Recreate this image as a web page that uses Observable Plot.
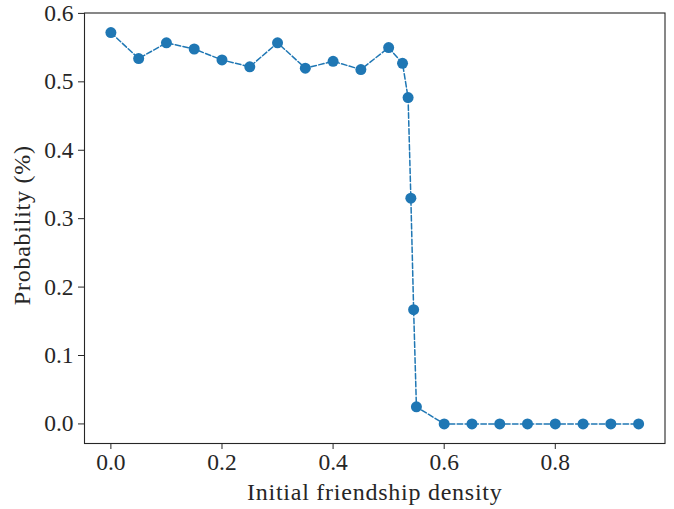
<!DOCTYPE html>
<html>
<head>
<meta charset="utf-8">
<script src="https://cdn.jsdelivr.net/npm/d3@7"></script>
<script src="https://cdn.jsdelivr.net/npm/@observablehq/plot@0.6"></script>
<style>
  html, body { margin: 0; padding: 0; background: #fff; }
  #chart svg { display: block; }
  #chart .axis-title text { letter-spacing: 0.75px; }
</style>
</head>
<body>
<div id="chart"></div>
<script>
const density = [0.00, 0.05, 0.10, 0.15, 0.20, 0.25, 0.30, 0.35, 0.40, 0.45, 0.50,
                 0.525, 0.535, 0.54, 0.545, 0.55,
                 0.60, 0.65, 0.70, 0.75, 0.80, 0.85, 0.90, 0.95];
const probability = [0.572, 0.534, 0.557, 0.548, 0.532, 0.522, 0.557, 0.520, 0.530, 0.518, 0.550,
                     0.527, 0.477, 0.330, 0.167, 0.025,
                     0, 0, 0, 0, 0, 0, 0, 0];
const xTicks = [0.0, 0.2, 0.4, 0.6, 0.8];
const yTicks = [0.0, 0.1, 0.2, 0.3, 0.4, 0.5, 0.6];
const xLabel = "Initial friendship density";
const yLabel = "Probability (%)";

const data = density.map((d, i) => ({x: d, y: probability[i]}));
const blue = "#1f77b4";
const ink = "#262626";
const font = "'Liberation Serif', 'Times New Roman', serif";

const chart = Plot.plot({
  width: 674,
  height: 509,
  marginLeft: 84,
  marginRight: 9.5,
  marginTop: 12.5,
  marginBottom: 66,
  style: {fontFamily: font, fontSize: "23.5px", color: ink, background: "#fff"},
  x: {domain: [-0.0475, 0.9975]},
  y: {domain: [-0.0286, 0.6006]},
  marks: [
    Plot.frame({stroke: ink, strokeWidth: 1.1}),
    Plot.axisX({ticks: xTicks, tickFormat: d3.format(".1f"), tickSize: 6, tickPadding: 4,
                label: null, stroke: ink, fill: ink, fontSize: 23.5}),
    Plot.axisY({ticks: yTicks, tickFormat: d3.format(".1f"), tickSize: 6, tickPadding: 5,
                label: null, stroke: ink, fill: ink, fontSize: 23.5}),
    Plot.text([xLabel], {text: d => d, frameAnchor: "bottom", dy: 56, lineAnchor: "bottom",
                textAnchor: "middle", fontSize: 24, fill: ink, className: "axis-title"}),
    Plot.text([yLabel], {text: d => d, frameAnchor: "left", dx: -72, dy: -3, lineAnchor: "top",
                textAnchor: "middle", rotate: -90, fontSize: 24, fill: ink, className: "axis-title"}),
    Plot.line(data, {x: "x", y: "y", stroke: blue, strokeWidth: 1.5, strokeDasharray: "5.5,2.4"}),
    Plot.dot(data, {x: "x", y: "y", r: 5.5, fill: blue, stroke: "none"})
  ]
});
document.getElementById("chart").appendChild(chart);
</script>
</body>
</html>
